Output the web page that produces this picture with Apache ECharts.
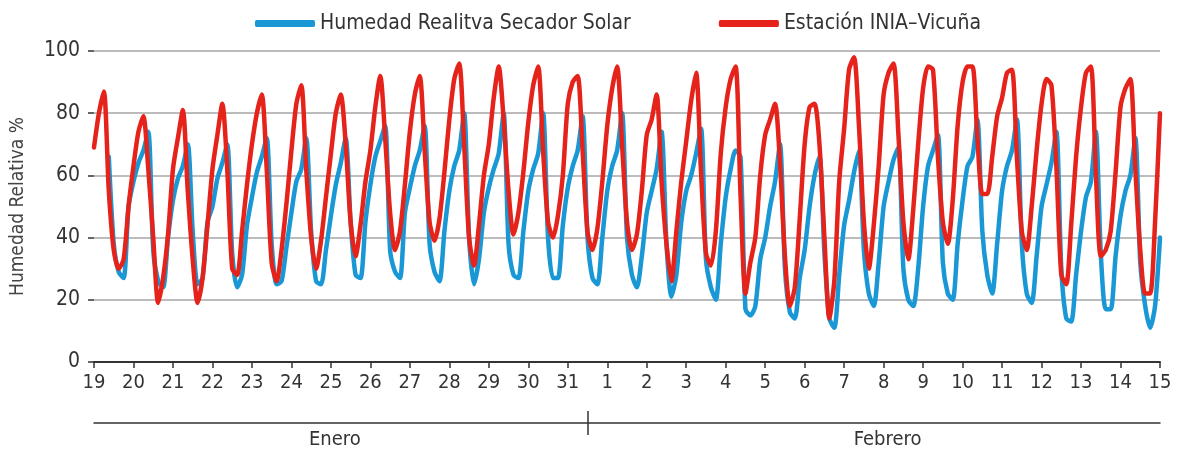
<!DOCTYPE html>
<html>
<head>
<meta charset="utf-8">
<script src="https://cdn.jsdelivr.net/npm/echarts@6/dist/echarts.min.js"></script>
<style>
  html, body { margin: 0; padding: 0; background: #fff; }
  #chartHumedad { width: 1179px; height: 450px; }
</style>
</head>
<body>
<div id="chartHumedad"></div>
<script>
// etiquetas del eje x (19 enero .. 15 febrero)
var dias = ['19','20','21','22','23','24','25','26','27','28','29','30','31',
            '1','2','3','4','5','6','7','8','9','10','11','12','13','14','15'];
var meses = ['Enero', 'Febrero'];
var horasPorDia = 8; // un dato cada 3 horas

// Humedad relativa secador solar (0h,3h,6h,9h,12h,15h,18h,21h por día)
var hrSecador = [
    null, null, null, 66, 38, 29, 27, 50,   // 19
    58, 64, 68, 74, 36, 26, 24, 40,         // 20
    52, 59, 63, 70, 42, 25, 27, 45,         // 21
    50, 59, 64, 70, 35, 24, 28, 44,         // 22
    53, 61, 66, 72, 38, 25, 26, 37,         // 23
    48, 58, 62, 72, 42, 26, 25, 36,         // 24
    47, 57, 64, 72, 45, 28, 27, 45,         // 25
    57, 66, 71, 76, 36, 29, 27, 48,         // 26
    56, 63, 68, 76, 38, 29, 26, 42,         // 27
    55, 63, 68, 80, 40, 25, 33, 48,         // 28
    56, 62, 67, 80, 38, 28, 27, 42,         // 29
    55, 62, 67, 80, 40, 27, 27, 44,         // 30
    56, 63, 68, 79, 40, 27, 25, 40,         // 31
    55, 63, 68, 80, 40, 28, 24, 34,         // 1
    48, 55, 62, 74, 38, 21, 28, 45,         // 2
    55, 60, 67, 75, 33, 24, 20, 38,         // 3
    53, 62, 68, 66, 17, 15, 18, 33,         // 4
    40, 50, 58, 70, 30, 16, 14, 27,         // 5
    36, 50, 60, 66, 35, 14, 11, 28,         // 6
    44, 52, 61, 68, 36, 22, 18, 32,         // 7
    50, 58, 65, 69, 30, 20, 18, 30,         // 8
    50, 63, 68, 73, 32, 22, 20, 38,         // 9
    52, 63, 66, 78, 42, 28, 22, 38,         // 10
    55, 63, 68, 78, 38, 22, 19, 34,         // 11
    50, 57, 64, 74, 30, 14, 13, 28,         // 12
    42, 53, 58, 74, 35, 17, 17, 34,         // 13
    47, 55, 60, 72, 32, 18, 11, 18,         // 14
    40                                      // 15
];

// Estacion INIA-Vicuña
var hrInia = [
    69, 80, 87, 55, 36, 30, 33, 50,   // 19
    63, 74, 79, 62, 40, 19, 27, 41,   // 20
    62, 72, 81, 55, 33, 19, 27, 44,   // 21
    62, 73, 83, 62, 30, 28, 42, 57,   // 22
    70, 80, 86, 62, 32, 26, 36, 51,   // 23
    68, 83, 89, 62, 40, 30, 39, 53,   // 24
    67, 80, 86, 70, 45, 34, 44, 58,   // 25
    68, 82, 92, 72, 48, 36, 42, 57,   // 26
    74, 86, 92, 68, 45, 39, 46, 61,   // 27
    78, 91, 96, 70, 40, 31, 44, 60,   // 28
    70, 85, 95, 78, 55, 41, 48, 61,   // 29
    77, 89, 95, 68, 45, 40, 47, 60,   // 30
    83, 90, 92, 68, 42, 36, 43, 58,   // 31
    76, 88, 95, 70, 45, 36, 41, 55,   // 1
    73, 78, 86, 58, 38, 26, 42, 58,   // 2
    71, 84, 93, 61, 35, 31, 42, 67,   // 3
    82, 91, 95, 54, 22, 32, 40, 60,   // 4
    73, 78, 83, 64, 34, 18, 24, 46,   // 5
    70, 82, 83, 70, 40, 14, 26, 58,   // 6
    75, 94, 98, 76, 45, 30, 44, 63,   // 7
    86, 93, 96, 73, 45, 33, 49, 70,   // 8
    88, 95, 94, 66, 45, 38, 52, 76,   // 9
    90, 95, 95, 72, 54, 54, 66, 79,   // 10
    85, 93, 94, 66, 42, 36, 50, 68,   // 11
    83, 91, 89, 63, 28, 25, 44, 66,   // 12
    82, 93, 95, 61, 34, 36, 42, 61,   // 13
    82, 88, 91, 62, 36, 22, 22, 45,   // 14
    80                                // 15
];

function serie(valores) {
    return valores.map(function (v, i) { return [i / horasPorDia, v]; });
}

var fuente = "'DejaVu Sans Condensed', 'Roboto Condensed', Roboto, sans-serif";

var chartHumedad = {
    animation: false,
    color: ['#1a98d5', '#e5231b'],
    textStyle: { fontFamily: fuente, color: '#333' },
    legend: {
        top: 8,
        left: 250,
        icon: 'roundRect',
        itemWidth: 60,
        itemHeight: 7,
        itemGap: 88,
        textStyle: { fontFamily: fuente, fontSize: 21, color: '#333' }
    },
    grid: {
        left: 94,
        right: 19,
        top: 51,
        bottom: 87
    },
    xAxis: [
        {
            type: 'value',
            min: 0,
            max: dias.length - 1,
            interval: 1,
            axisLine: { lineStyle: { color: '#333', width: 2 } },
            axisTick: { length: 6, lineStyle: { color: '#333', width: 1.5 } },
            axisLabel: {
                margin: 11,
                fontSize: 20,
                color: '#333',
                fontFamily: fuente,
                formatter: function (v) { return dias[v]; }
            },
            splitLine: { show: false }
        },
        {
            // llave de meses
            type: 'value',
            min: 0,
            max: dias.length - 1,
            position: 'bottom',
            offset: 61,
            axisLine: { lineStyle: { color: '#333', width: 1.5 } },
            axisTick: { customValues: [12.5], length: 12, lineStyle: { color: '#333', width: 1.5 } },
            axisLabel: {
                customValues: [6.1, 20.1],
                margin: 7,
                fontSize: 20,
                color: '#333',
                fontFamily: fuente,
                formatter: function (v) { return v < 12.5 ? meses[0] : meses[1]; }
            },
            splitLine: { show: false }
        },
        {
            type: 'value',
            min: 0,
            max: dias.length - 1,
            position: 'bottom',
            offset: 61,
            axisLine: { show: false },
            axisTick: { customValues: [12.5], inside: true, length: 12, lineStyle: { color: '#333', width: 1.5 } },
            axisLabel: { show: false },
            splitLine: { show: false }
        }
    ],
    yAxis: {
        type: 'value',
        min: 0,
        max: 100,
        interval: 20,
        name: 'Humedad Relativa %',
        nameLocation: 'middle',
        nameGap: 66,
        nameTextStyle: { fontSize: 19, color: '#444', fontFamily: fuente },
        axisLine: { show: false },
        axisTick: { show: true, length: 6, lineStyle: { color: '#333', width: 1.5 } },
        axisLabel: { margin: 14, fontSize: 21, color: '#333', fontFamily: fuente },
        splitLine: { lineStyle: { color: '#a6a6a6', width: 1.5 } }
    },
    series: [
        {
            name: 'Humedad Realitva Secador Solar',
            type: 'line',
            data: serie(hrSecador),
            showSymbol: false,
            smooth: 0.25,
            lineStyle: { width: 4.5, cap: 'round', join: 'round' }
        },
        {
            name: 'Estación INIA–Vicuña',
            type: 'line',
            data: serie(hrInia),
            showSymbol: false,
            smooth: 0.25,
            lineStyle: { width: 4.5, cap: 'round', join: 'round' }
        }
    ]
};

var myChartHumedad = echarts.init(document.getElementById('chartHumedad'));
myChartHumedad.setOption(chartHumedad);
</script>
</body>
</html>
